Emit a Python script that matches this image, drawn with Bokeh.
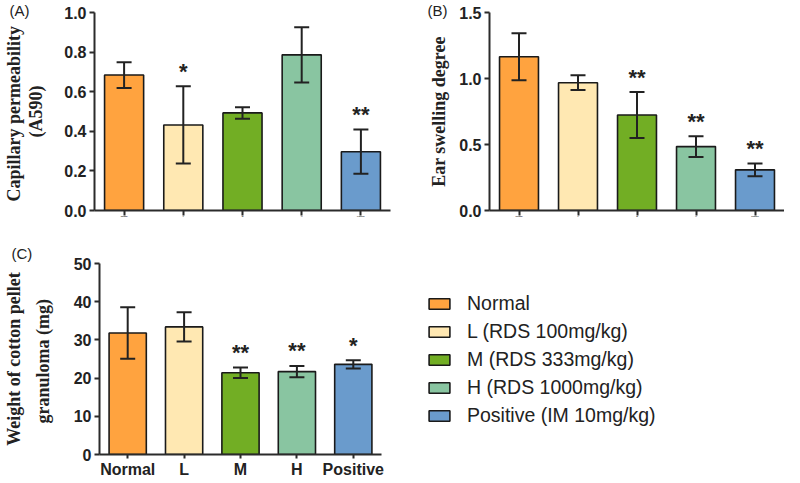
from bokeh.plotting import figure
from bokeh.models import (ColumnDataSource, Whisker, TeeHead, Range1d, FixedTicker,
                          PrintfTickFormatter, LinearAxis, Legend, LegendItem,
                          FactorRange)
from bokeh.layouts import column, row
from bokeh.embed import file_html
from bokeh.resources import INLINE
from bokeh.core.properties import value

# ---------------- data ----------------
groups = ["Normal", "L", "M", "H", "Positive"]
legend_labels = ["Normal", "L (RDS 100mg/kg)", "M (RDS 333mg/kg)",
                 "H (RDS 1000mg/kg)", "Positive (IM 10mg/kg)"]
bar_colors = ["#FFA33F", "#FFE8B2", "#72AE24", "#89C5A1", "#6A9BCC"]

capillary_mean = [0.684, 0.432, 0.493, 0.786, 0.297]
capillary_sd = [0.065, 0.195, 0.029, 0.140, 0.112]
capillary_sig = ["", "*", "", "", "**"]
capillary_ticks = [0.0, 0.2, 0.4, 0.6, 0.8, 1.0]

ear_mean = [1.165, 0.968, 0.723, 0.484, 0.308]
ear_sd = [0.178, 0.056, 0.174, 0.079, 0.048]
ear_sig = ["", "", "**", "**", "**"]
ear_ticks = [0.0, 0.5, 1.0, 1.5]

granuloma_mean = [31.8, 33.4, 21.4, 21.7, 23.6]
granuloma_sd = [6.75, 3.85, 1.40, 1.50, 1.10]
granuloma_sig = ["", "", "**", "**", "*"]
granuloma_ticks = [0, 10, 20, 30, 40, 50]

SANS = "Liberation Sans"
SERIF = "Liberation Serif"
AXIS_COLOR = "#2b2b2b"
TEXT_COLOR = "#222222"


def make_panel(means, sds, sigs, ticks, fmt, inner_label, outer_label, tag,
               width, height, mb, inner_standoff, outer_standoff, tag_offset,
               tag_standoff, show_x_labels):
    p = figure(width=width, height=height, x_range=FactorRange(*groups),
               y_range=Range1d(0, ticks[-1]), output_backend="svg",
               toolbar_location=None, min_border_left=mb[0], min_border_right=mb[1],
               min_border_top=mb[2], min_border_bottom=mb[3],
               title=tag, title_location="above")
    p.outline_line_color = None
    p.grid.visible = False

    # panel tag "(A)" etc. as the plot title, pulled left of the frame
    p.title.align = "left"
    p.title.vertical_align = "middle"
    p.title.offset = tag_offset
    p.title.standoff = tag_standoff
    p.title.text_font = SANS
    p.title.text_font_style = "normal"
    p.title.text_font_size = "15px"
    p.title.text_color = TEXT_COLOR

    upper = [m + s for m, s in zip(means, sds)]
    lower = [m - s for m, s in zip(means, sds)]
    src = ColumnDataSource(dict(group=groups, mean=means, color=bar_colors,
                                upper=upper, lower=lower))

    p.vbar(x="group", top="mean", width=0.66, source=src, fill_color="color",
           line_color="#1a1a1a", line_width=1.6)
    p.add_layout(Whisker(source=src, base="group", upper="upper", lower="lower",
                         level="overlay", line_color=TEXT_COLOR, line_width=2,
                         upper_head=TeeHead(size=15, line_color=TEXT_COLOR, line_width=2),
                         lower_head=TeeHead(size=15, line_color=TEXT_COLOR, line_width=2)))

    keep = [i for i, s in enumerate(sigs) if s]
    star_src = ColumnDataSource(dict(group=[groups[i] for i in keep],
                                     upper=[upper[i] for i in keep],
                                     sig=[sigs[i] for i in keep]))
    p.text(x="group", y="upper", text="sig", source=star_src,
           text_font=value(SANS), text_font_style="bold", text_font_size="22px",
           text_align="center", text_baseline="middle", y_offset=-15,
           text_color=TEXT_COLOR)

    # y axis
    ya = p.yaxis[0]
    ya.ticker = FixedTicker(ticks=ticks)
    ya.formatter = PrintfTickFormatter(format=fmt)
    ya.axis_line_color = AXIS_COLOR
    ya.axis_line_width = 2
    ya.major_tick_line_color = AXIS_COLOR
    ya.major_tick_line_width = 2
    ya.major_tick_out = 5
    ya.major_tick_in = 0
    ya.minor_tick_line_color = None
    ya.major_label_standoff = 3
    ya.major_label_text_font = SANS
    ya.major_label_text_font_style = "bold"
    ya.major_label_text_font_size = "16px"
    ya.major_label_text_color = TEXT_COLOR
    ya.axis_label = inner_label
    ya.axis_label_text_font = SERIF
    ya.axis_label_text_font_style = "bold"
    ya.axis_label_text_font_size = "18px"
    ya.axis_label_text_color = TEXT_COLOR
    ya.axis_label_standoff = inner_standoff

    if outer_label:
        oa = LinearAxis(axis_label=outer_label, ticker=FixedTicker(ticks=[]),
                        axis_line_color=None, major_tick_line_color=None,
                        minor_tick_line_color=None,
                        axis_label_text_font=SERIF, axis_label_text_font_style="bold",
                        axis_label_text_font_size="18px",
                        axis_label_text_color=TEXT_COLOR,
                        axis_label_standoff=outer_standoff)
        p.add_layout(oa, "left")

    # x axis
    xa = p.xaxis[0]
    xa.axis_line_color = AXIS_COLOR
    xa.axis_line_width = 2
    xa.major_tick_line_color = AXIS_COLOR
    xa.major_tick_line_width = 2
    xa.major_tick_out = 5
    xa.major_tick_in = 0
    xa.minor_tick_line_color = None
    xa.major_label_text_font = SANS
    xa.major_label_text_font_style = "bold"
    xa.major_label_text_color = TEXT_COLOR
    if show_x_labels:
        xa.major_tick_out = 4
        xa.major_label_standoff = 2
        xa.major_label_text_font_size = "16px"
    else:
        xa.major_label_overrides = {g: "" for g in groups}
        xa.major_label_text_font_size = "2px"
        xa.major_label_standoff = 0
    return p


pA = make_panel(capillary_mean, capillary_sd, capillary_sig, capillary_ticks, "%.1f",
                "(A590)", "Capillary  permeability", "(A)",
                392, 225, (85, 2, 10, 13), 15, 0, -85, -15, False)
pB = make_panel(ear_mean, ear_sd, ear_sig, ear_ticks, "%.1f",
                "Ear swelling degree", None, "(B)",
                392, 225, (97, 0, 12, 15), 7, 0, -62, -15, False)
pC = make_panel(granuloma_mean, granuloma_sd, granuloma_sig, granuloma_ticks, "%d",
                "granuloma  (mg)", "Weight of cotton pellet", "(C)",
                392, 255, (88, 11, 38, 24), 18, 6, -88, 1, True)

# legend panel: a bar renderer without drawable heights supplies the swatches
pL = figure(width=392, height=255, x_range=FactorRange(*groups),
            y_range=Range1d(0, 1), output_backend="svg", toolbar_location=None,
            min_border=0, x_axis_location=None, y_axis_location=None)
pL.outline_line_color = None
pL.grid.visible = False
leg_src = ColumnDataSource(dict(group=groups, top=[float("nan")] * len(groups),
                                color=bar_colors))
r_leg = pL.vbar(x="group", top="top", width=0.66, source=leg_src, fill_color="color",
                line_color="#1a1a1a", line_width=1.6)
items = [LegendItem(label=lab, renderers=[r_leg], index=i)
         for i, lab in enumerate(legend_labels)]
leg = Legend(items=items, location=(34, 27), border_line_color=None,
             background_fill_alpha=0, padding=0, margin=0, spacing=5,
             glyph_width=26, glyph_height=13, label_standoff=15, label_height=20,
             label_text_font=SANS, label_text_font_size="19.5px",
             label_text_color=TEXT_COLOR)
pL.add_layout(leg)

layout = column(row(pA, pB), row(pC, pL))

with open("out.html", "w") as f:
    f.write(file_html(layout, INLINE))
